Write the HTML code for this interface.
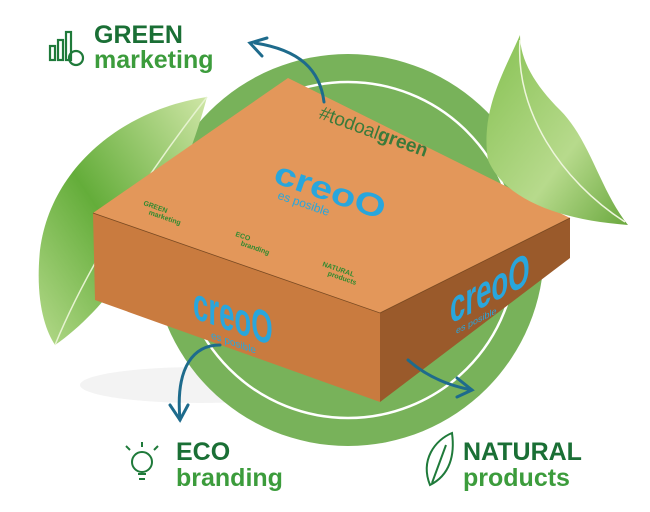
<!DOCTYPE html>
<html><head><meta charset="utf-8"><style>
html,body{margin:0;padding:0;background:#fff;width:650px;height:512px;overflow:hidden}
svg{display:block}
text{font-family:"Liberation Sans",sans-serif}
</style></head><body>
<svg width="650" height="512" viewBox="0 0 650 512">
<defs>
<linearGradient id="lf" x1="0" y1="1" x2="1" y2="0"><stop offset="0" stop-color="#b4d98a"/><stop offset="0.45" stop-color="#64ad3a"/><stop offset="1" stop-color="#cfe6a6"/></linearGradient>
<linearGradient id="rf" x1="0" y1="0" x2="1" y2="1"><stop offset="0" stop-color="#86c152"/><stop offset="0.6" stop-color="#b7da8c"/><stop offset="1" stop-color="#6aa83e"/></linearGradient>
</defs>
<ellipse cx="200" cy="385" rx="120" ry="18" fill="#f3f3f3"/>
<circle cx="348" cy="250" r="196" fill="#78b25a"/>
<circle cx="348" cy="250" r="168" fill="none" stroke="#fff" stroke-width="2.5"/>
<!-- left leaf -->
<path d="M207,97 C120,110 50,170 40,250 C35,300 45,330 55,345 C120,300 180,200 207,97 Z" fill="url(#lf)"/>
<path d="M207,97 C150,170 90,260 55,345" fill="none" stroke="#e6f3d0" stroke-width="1.5"/>
<!-- box -->
<polygon points="93,213 380,313 380,402 95,300" fill="#c97b3f"/>
<polygon points="380,313 570,218 570,258 380,402" fill="#9a5a2b"/>
<polygon points="288,78 570,218 380,313 93,213" fill="#e3975a"/>
<path d="M93,213 L380,313 L570,218" fill="none" stroke="#7a4a22" stroke-width="0.8"/>
<text x="318" y="118" font-size="19" fill="#3a7a3a" transform="rotate(20 318 118)">#todoal<tspan font-weight="bold">green</tspan></text>
<g transform="translate(272,182) rotate(19)"><text x="0" y="0" font-size="40" font-weight="bold" fill="#29a6dc" transform="scale(1,0.8)">creoO</text>
<text x="10" y="14" font-size="12" fill="#29a6dc">es posible</text></g>
<g fill="#2f8a2f" font-weight="bold" font-size="7">
<text transform="translate(143,205) rotate(19)">GREEN<tspan x="8" dy="7">marketing</tspan></text>
<text transform="translate(235,236) rotate(19)">ECO<tspan x="8" dy="7">branding</tspan></text>
<text transform="translate(322,266) rotate(19)">NATURAL<tspan x="8" dy="7">products</tspan></text>
</g>
<g transform="translate(193,318) skewY(19)"><text x="0" y="0" font-size="46" font-weight="bold" fill="#29a6dc" transform="scale(0.6,1)">creoO</text>
<text x="18" y="14" font-size="10" fill="#29a6dc">es posible</text></g>
<g transform="translate(450,324) skewY(-27)"><text x="0" y="0" font-size="46" font-weight="bold" fill="#29a6dc" transform="scale(0.6,1)">creoO</text>
<text x="6" y="13" font-size="9" fill="#29a6dc">es posible</text></g>
<!-- right leaf -->
<path d="M520,35 C505,70 480,110 488,160 C505,200 560,220 628,225 C600,190 590,140 560,110 C535,85 520,60 520,35 Z" fill="url(#rf)"/>
<path d="M520,40 C515,110 560,180 625,222" fill="none" stroke="#eef6dc" stroke-width="1.5"/>
<!-- arrows -->
<g fill="none" stroke="#1e6b8c" stroke-width="3" stroke-linecap="round">
<path d="M324,102 C320,70 300,50 255,43"/><path d="M267,38 L250,43 L262,56"/>
<path d="M220,345 C195,345 175,365 180,420"/><path d="M170,405 L180,420 L188,405"/>
<path d="M408,360 C425,375 445,385 472,390"/><path d="M457,378 L472,390 L457,397"/>
</g>
<!-- labels -->
<g fill="none" stroke="#1f7a3a" stroke-width="2.2">
<rect x="50" y="46" width="5" height="14"/><rect x="58" y="40" width="5" height="20"/><rect x="66" y="32" width="5" height="28"/><circle cx="76" cy="58" r="7"/>
</g>
<text x="94" y="43" font-size="25" font-weight="bold" fill="#1a6f35">GREEN</text>
<text x="94" y="68" font-size="25" font-weight="bold" fill="#3c9c3c">marketing</text>
<g fill="none" stroke="#1f7a3a" stroke-width="2"><circle cx="142" cy="462" r="10"/><path d="M138,474 h8 M139,479 h6 M130,450 l-4,-4 M142,447 v-5 M154,450 l4,-4"/></g>
<text x="176" y="460" font-size="25" font-weight="bold" fill="#1a6f35">ECO</text>
<text x="176" y="486" font-size="25" font-weight="bold" fill="#3c9c3c">branding</text>
<path d="M430,485 C420,460 435,440 452,433 C455,455 450,475 430,485 Z M432,483 L446,445" fill="none" stroke="#1f7a3a" stroke-width="2"/>
<text x="463" y="460" font-size="25" font-weight="bold" fill="#1a6f35">NATURAL</text>
<text x="463" y="486" font-size="25" font-weight="bold" fill="#3c9c3c">products</text>
</svg>
</body></html>
